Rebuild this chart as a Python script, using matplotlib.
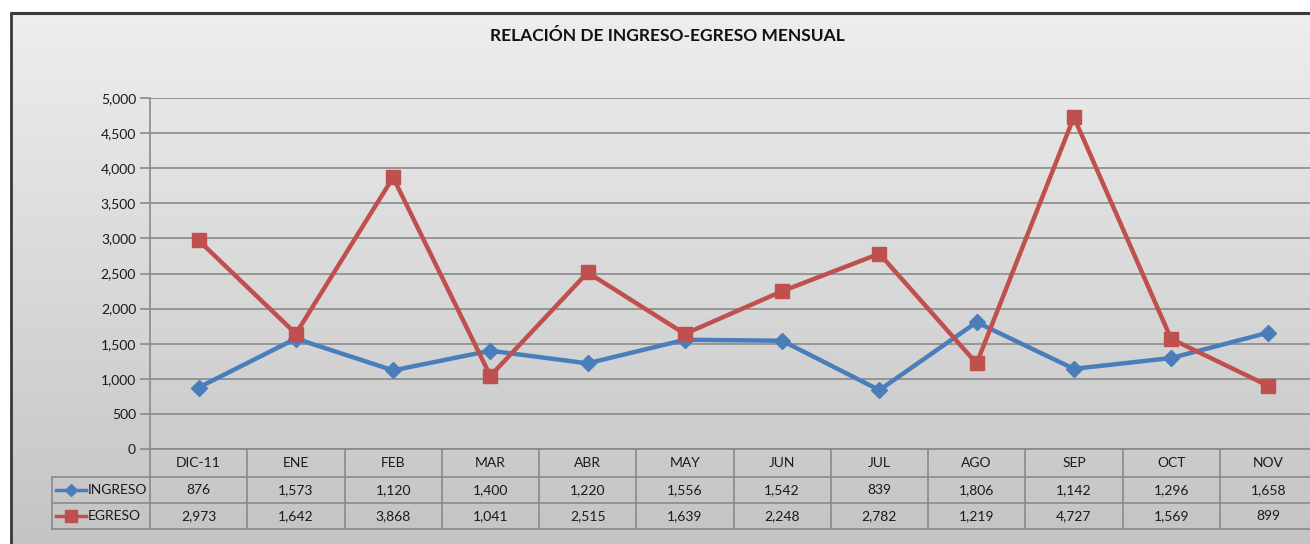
import numpy as np
import matplotlib
matplotlib.use("Agg")
import matplotlib.pyplot as plt
from matplotlib.transforms import blended_transform_factory
from matplotlib.lines import Line2D
from matplotlib.colors import LinearSegmentedColormap

categories = ["DIC-11", "ENE", "FEB", "MAR", "ABR", "MAY", "JUN", "JUL", "AGO", "SEP", "OCT", "NOV"]
ingreso = [876, 1573, 1120, 1400, 1220, 1556, 1542, 839, 1806, 1142, 1296, 1658]
egreso = [2973, 1642, 3868, 1041, 2515, 1639, 2248, 2782, 1219, 4727, 1569, 899]
yticks = [0, 500, 1000, 1500, 2000, 2500, 3000, 3500, 4000, 4500, 5000]
title = "RELACIÓN DE INGRESO-EGRESO MENSUAL"

plt.rcParams['font.family'] = ['Lato', 'DejaVu Sans']

W, H = 1310, 544
fig = plt.figure(figsize=(W / 100, H / 100), dpi=100)
fig.patch.set_facecolor('white')

def fx(px):
    return px / W

def fy(py):
    return 1 - py / H

# background gradient
bg = fig.add_axes([0, 0, 1, 1], zorder=-5)
bg.set_xlim(0, W)
bg.set_ylim(H, 0)
bg.axis('off')
grad = np.linspace(0, 1, 256).reshape(-1, 1)
cmap = LinearSegmentedColormap.from_list('g', ['#eeeeee', '#c4c4c4'])
bg.imshow(grad, cmap=cmap, extent=[10, W + 5, H, 12], aspect='auto', zorder=0)
bg.plot([10, W + 5], [12.5, 12.5], color='#3a3a3a', lw=2.2, solid_capstyle='butt', zorder=2)
bg.plot([10.5, 10.5], [12, H], color='#3a3a3a', lw=2.0, solid_capstyle='butt', zorder=2)

# main axes
x0, x1 = 150, 1317
ytop, ybot = 98, 449
ax = fig.add_axes([fx(x0), fy(ybot), (x1 - x0) / W, (ybot - ytop) / H])
ax.set_facecolor('none')
ax.set_xlim(0, 12)
ax.set_ylim(0, 5000)
ax.set_yticks(yticks)
ax.set_yticklabels([f"{v:,}" for v in yticks], fontsize=10, color='#1a1a1a')
ax.tick_params(axis='y', length=7, color='#8a8a8a', width=1.2, pad=3)
ax.set_xticks([])
for s in ['top', 'right', 'bottom']:
    ax.spines[s].set_visible(False)
ax.spines['left'].set_color('#8a8a8a')
ax.spines['left'].set_linewidth(1.2)
for v in yticks:
    ax.axhline(v, color='#8a8a8a', lw=1.2, zorder=1)

xs = np.arange(len(categories)) + 0.5
ax.plot(xs, ingreso, color='#4a7ebb', lw=3.2, marker='D', markersize=8,
        markerfacecolor='#4a7ebb', markeredgecolor='#4a7ebb', zorder=3)
ax.plot(xs, egreso, color='#c0504d', lw=3.2, marker='s', markersize=10,
        markerfacecolor='#c0504d', markeredgecolor='#c0504d', zorder=4)

fig.text(fx(667), fy(36), title, ha='center', va='center', fontsize=12.5, fontweight='bold', color='#111111')

# data table
tr = blended_transform_factory(ax.transData, fig.transFigure)
gc = '#8a8a8a'
rows_y = [449, 477, 503, 529]
for yy in rows_y:
    fig.add_artist(Line2D([0, 12], [fy(yy)] * 2, transform=tr, color=gc, lw=1.2))
for yy in rows_y[1:]:
    fig.add_artist(Line2D([fx(52), fx(150)], [fy(yy)] * 2, color=gc, lw=1.2))
fig.add_artist(Line2D([fx(52), fx(52)], [fy(477), fy(529)], color=gc, lw=1.2))
for i in range(13):
    fig.add_artist(Line2D([i, i], [fy(449), fy(529)], transform=tr, color=gc, lw=1.2))

for i, c in enumerate(categories):
    fig.text(xs[i], fy(463), c, transform=tr, ha='center', va='center', fontsize=10, color='#1a1a1a')
    fig.text(xs[i], fy(490), f"{ingreso[i]:,}", transform=tr, ha='center', va='center', fontsize=10, color='#1a1a1a')
    fig.text(xs[i], fy(516), f"{egreso[i]:,}", transform=tr, ha='center', va='center', fontsize=10, color='#1a1a1a')

# legend keys
fig.add_artist(Line2D([fx(56), fx(71), fx(86)], [fy(490)] * 3, color='#4a7ebb', lw=2.5,
                      marker='D', markersize=6, markevery=[1], markerfacecolor='#4a7ebb', markeredgecolor='#4a7ebb'))
fig.add_artist(Line2D([fx(56), fx(71), fx(86)], [fy(516)] * 3, color='#c0504d', lw=2.5,
                      marker='s', markersize=8, markevery=[1], markerfacecolor='#c0504d', markeredgecolor='#c0504d'))
fig.text(fx(88), fy(490), "INGRESO", ha='left', va='center', fontsize=10, color='#1a1a1a')
fig.text(fx(88), fy(516), "EGRESO", ha='left', va='center', fontsize=10, color='#1a1a1a')

fig.savefig('out.png', dpi=100, facecolor='white')
